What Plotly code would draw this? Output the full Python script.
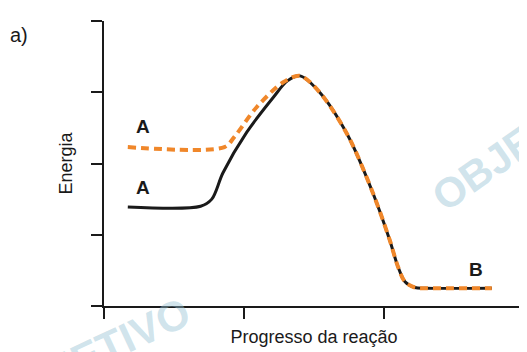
import plotly.graph_objects as go

# reaction progress (0..3) and energy (0..4)
x_black = [0.17, 0.69, 0.77, 0.85, 1.02, 1.21, 1.31, 1.40, 1.54, 1.74, 1.92, 2.04, 2.10, 2.15, 2.22, 2.30, 2.77]
y_black = [1.39, 1.40, 1.50, 1.87, 2.44, 2.93, 3.16, 3.23, 3.00, 2.40, 1.59, 0.93, 0.55, 0.34, 0.26, 0.25, 0.25]

x_orange = [0.17, 0.86, 0.93, 1.09, 1.28, 1.40, 1.54, 1.74, 1.92, 2.04, 2.10, 2.15, 2.22, 2.30, 2.77]
y_orange = [2.23, 2.23, 2.37, 2.79, 3.14, 3.23, 3.00, 2.40, 1.59, 0.93, 0.55, 0.34, 0.26, 0.25, 0.25]

x_ticks = [0, 1, 2, 3]
y_ticks = [0, 1, 2, 3, 4]

fig = go.Figure()

fig.add_trace(
    go.Scatter(
        x=x_black,
        y=y_black,
        mode="lines",
        line=dict(color="#1a1a1a", width=3, shape="spline", smoothing=0.9),
        showlegend=False,
    )
)

fig.add_trace(
    go.Scatter(
        x=x_orange,
        y=y_orange,
        mode="lines",
        line=dict(color="#f0872a", width=4, dash="8px,5px", shape="spline", smoothing=0.9),
        showlegend=False,
    )
)

font = "Liberation Sans, Arial, sans-serif"

# faint watermark, mostly cut off at the edges
for ax, ay, ang in [(1.245, 0.58, -35), (-0.29, -0.41, -25)]:
    fig.add_annotation(
        x=ax, y=ay, xref="paper", yref="paper",
        text="<b>OBJETIVO</b>", showarrow=False, textangle=ang,
        font=dict(family=font, size=42, color="rgba(150,195,212,0.45)"),
    )

fig.add_annotation(x=0.28, y=2.52, text="<b>A</b>", showarrow=False,
                   font=dict(family=font, size=19, color="#1a1a1a"))
fig.add_annotation(x=0.28, y=1.67, text="<b>A</b>", showarrow=False,
                   font=dict(family=font, size=19, color="#1a1a1a"))
fig.add_annotation(x=2.66, y=0.51, text="<b>B</b>", showarrow=False,
                   font=dict(family=font, size=19, color="#1a1a1a"))
fig.add_annotation(x=-0.229, y=0.996, xref="paper", yref="paper", text="a)",
                   xanchor="left", showarrow=False,
                   font=dict(family=font, size=20, color="#1a1a1a"))

axis = dict(
    showgrid=False, zeroline=False, showline=True, linecolor="#1a1a1a", linewidth=2,
    ticks="outside", ticklen=11, tickwidth=2, tickcolor="#1a1a1a",
    showticklabels=False, automargin=False,
)

# the page adds an 8px body margin, so the figure is 8px smaller than the window
fig.update_layout(
    width=519,
    height=344,
    margin=dict(l=96, r=3, t=13, b=46, autoexpand=False),
    plot_bgcolor="white",
    paper_bgcolor="white",
    xaxis=dict(axis, range=[0, 3], tickvals=x_ticks,
               title=dict(text="Progresso da reação", standoff=12,
                          font=dict(family=font, size=18, color="#1a1a1a"))),
    yaxis=dict(axis, range=[0, 4], tickvals=y_ticks,
               title=dict(text="Energia", standoff=14,
                          font=dict(family=font, size=18, color="#1a1a1a"))),
)

fig.write_html("out.html")
